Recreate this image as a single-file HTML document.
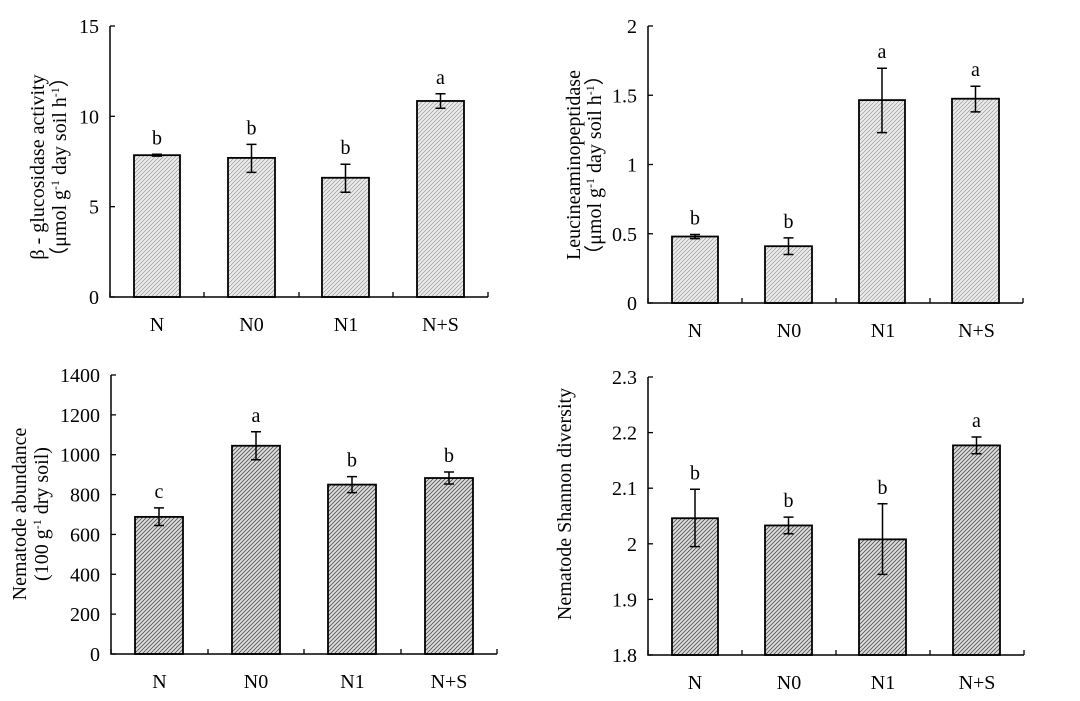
<!DOCTYPE html>
<html><head><meta charset="utf-8"><style>
html,body{margin:0;padding:0;background:#fff;}
svg{display:block;font-family:"Liberation Serif",serif;}
</style></head><body>
<svg id="s" width="1080" height="701" viewBox="0 0 1080 701" xmlns="http://www.w3.org/2000/svg">
<defs>
<pattern id="h1" width="4" height="4" patternUnits="userSpaceOnUse">
<rect width="4" height="4" fill="#ececec"/>
<path d="M0,4 L4,0 M-1,1 L1,-1 M3,5 L5,3" stroke="#9a9a9a" stroke-width="0.7"/>
</pattern>
<pattern id="h2" width="4" height="4" patternUnits="userSpaceOnUse">
<rect width="4" height="4" fill="#dedede"/>
<path d="M0,4 L4,0 M-1,1 L1,-1 M3,5 L5,3" stroke="#555" stroke-width="0.9"/>
</pattern>
</defs>
<g id="g"></g>
<g font-size="20" fill="#000">
<text transform="translate(44,167) rotate(-90)" text-anchor="middle">β - glucosidase activity</text>
<text transform="translate(66,167) rotate(-90)" text-anchor="middle">（μmol g<tspan font-size="12" dy="-7">-1</tspan><tspan dy="7"> day soil  h</tspan><tspan font-size="12" dy="-7">-1</tspan><tspan dy="7">）</tspan></text>
<text transform="translate(580,165) rotate(-90)" text-anchor="middle">Leucineaminopeptidase</text>
<text transform="translate(601,165) rotate(-90)" text-anchor="middle">（μmol g<tspan font-size="12" dy="-7">-1</tspan><tspan dy="7"> day soil  h</tspan><tspan font-size="12" dy="-7">-1</tspan><tspan dy="7">）</tspan></text>
<text transform="translate(26,514) rotate(-90)" text-anchor="middle">Nematode abundance</text>
<text transform="translate(48,514) rotate(-90)" text-anchor="middle">(100 g<tspan font-size="12" dy="-7">-1</tspan><tspan dy="7"> dry soil)</tspan></text>
<text transform="translate(571,504) rotate(-90)" text-anchor="middle">Nematode Shannon  diversity</text>
</g>
</svg>
<script>
const g=document.getElementById('g');let h='';
function panel(p){
 const {ax,ytop,y0,xend,ticks,vmin,vmax,bars,cats,pat,lw,lbl}=p;
 const sc=(y0-ytop)/(vmax-vmin);const Y=v=>y0-(v-vmin)*sc;
 ticks.forEach(t=>{const y=Y(t);h+=`<line x1="${ax}" y1="${y}" x2="${ax+5}" y2="${y}" stroke="#000" stroke-width="1.3"/>`;
  h+=`<text x="${ax-11}" y="${y+7}" text-anchor="end" font-size="20">${lbl(t)}</text>`;});
 cats.forEach(c=>{h+=`<line x1="${c}" y1="${y0}" x2="${c}" y2="${y0-5}" stroke="#000" stroke-width="1.3"/>`;});
 const names=['N','N0','N1','N+S'];
 bars.forEach((b,i)=>{const [x1,x2,v,lo,hi,l]=b;const yt=Y(v);
  h+=`<rect x="${x1}" y="${yt}" width="${x2-x1}" height="${y0-yt}" fill="url(#${pat})" stroke="#000" stroke-width="${lw}"/>`;
  const cx=(x1+x2)/2;
  h+=`<path d="M${cx},${Y(lo)}V${Y(hi)}M${cx-5},${Y(lo)}H${cx+5}M${cx-5},${Y(hi)}H${cx+5}" stroke="#000" stroke-width="1.5" fill="none"/>`;
  h+=`<text x="${cx}" y="${Y(hi)-10}" text-anchor="middle" font-size="20">${l}</text>`;
  h+=`<text x="${(cats[i]+cats[i+1])/2}" y="${y0+34}" text-anchor="middle" font-size="20">${names[i]}</text>`;});
 h+=`<path d="M${ax},${ytop}V${y0}H${xend}" stroke="#000" stroke-width="1.5" fill="none"/>`;
}
panel({ax:110,ytop:26,y0:297,xend:488,ticks:[0,5,10,15],vmin:0,vmax:15,pat:'h1',lw:1.8,lbl:t=>t,
 cats:[110,204,299,393,488],
 bars:[[134,180,7.85,7.8,7.9,'b'],[228,275,7.7,6.9,8.45,'b'],[322,369,6.6,5.8,7.35,'b'],[417,464,10.85,10.45,11.25,'a']]});
panel({ax:648,ytop:26,y0:303,xend:1023,ticks:[0,0.5,1,1.5,2],vmin:0,vmax:2,pat:'h1',lw:1.8,lbl:t=>t,
 cats:[648,742,836,930,1023],
 bars:[[672,718,0.48,0.465,0.495,'b'],[765,812,0.41,0.35,0.47,'b'],[859,905,1.465,1.23,1.695,'a'],[952,999,1.475,1.38,1.565,'a']]});
panel({ax:111,ytop:375,y0:654,xend:497,ticks:[0,200,400,600,800,1000,1200,1400],vmin:0,vmax:1400,pat:'h2',lw:1.8,lbl:t=>t,
 cats:[111,208,304,401,497],
 bars:[[135,183,688,645,733,'c'],[232,280,1045,975,1115,'a'],[328,376,850,810,890,'b'],[425,473,883,853,913,'b']]});
panel({ax:648,ytop:377,y0:655,xend:1024,ticks:[1.8,1.9,2.0,2.1,2.2,2.3],vmin:1.8,vmax:2.3,pat:'h2',lw:1.8,lbl:t=>(t===2?'2':t.toFixed(1)),
 cats:[648,742,836,930,1024],
 bars:[[672,718,2.046,1.995,2.098,'b'],[765,812,2.033,2.018,2.048,'b'],[859,906,2.008,1.945,2.072,'b'],[953,1000,2.177,2.162,2.192,'a']]});
g.innerHTML=h;
</script>
</body></html>
